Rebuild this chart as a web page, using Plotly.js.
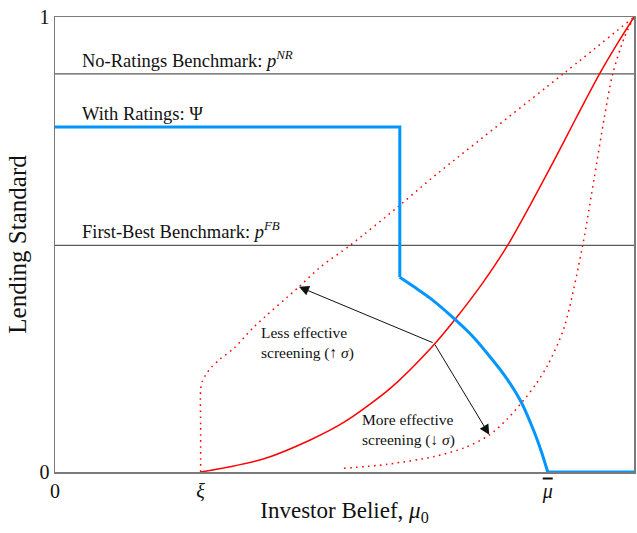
<!DOCTYPE html>
<html>
<head>
<meta charset="utf-8">
<script src="https://cdn.plot.ly/plotly-3.0.1.min.js"></script>
<style>
  html, body { margin: 0; padding: 0; background: #fff; }
  #chart { width: 637px; height: 533px; }
</style>
</head>
<body>
<div id="chart"></div>
<script>
// Benchmark lending standards (horizontal references)
const pNR = 0.875;   // no-ratings benchmark
const pFB = 0.498;   // first-best benchmark
const benchX = [0, 1];

// Special points on the belief axis
const xi = 0.2515;
const muBar = 0.851;

// Lending standard with ratings, Psi(mu0): flat part, falling part, zero part
const psiFlatX = [0, 0.5955, 0.5955];
const psiFlatY = [0.758, 0.758, 0.428];
const psiCurveX = [0.5955, 0.62, 0.649, 0.6894, 0.72, 0.747, 0.78, 0.8047, 0.8277, 0.84, 0.851];
const psiCurveY = [0.428, 0.407, 0.381, 0.337, 0.300, 0.260, 0.206, 0.155, 0.088, 0.045, 0];
const psiZeroX = [0.851, 1];
const psiZeroY = [0, 0];

// Baseline screening curve (solid red)
const baseX = [0.2515, 0.30, 0.361, 0.4417, 0.50, 0.58, 0.649, 0.6894, 0.74, 0.7817, 0.82, 0.86, 0.90, 0.94, 0.972, 1.0];
const baseY = [0, 0.011, 0.029, 0.071, 0.110, 0.185, 0.272, 0.333, 0.418, 0.498, 0.585, 0.680, 0.778, 0.874, 0.943, 1.0];

// Less effective screening (upper dotted red)
const lessX = [0.2515, 0.2515, 0.2515, 0.2540, 0.2600, 0.2700, 0.2850, 0.309, 0.3437, 0.4214, 0.4589, 0.5096, 0.5915, 0.649, 0.8767, 1.0];
const lessY = [0, 0.100, 0.180, 0.198, 0.213, 0.230, 0.248, 0.272, 0.319, 0.407, 0.451, 0.498, 0.582, 0.644, 0.874, 1.0];

// More effective screening (lower dotted red)
const moreX = [0.499, 0.574, 0.655, 0.7067, 0.75, 0.78, 0.8076, 0.83, 0.851, 0.8795, 0.9113, 0.9314, 0.9487, 0.963, 0.983, 1.0];
const moreY = [0.008, 0.017, 0.034, 0.053, 0.081, 0.115, 0.155, 0.192, 0.235, 0.318, 0.498, 0.647, 0.779, 0.874, 0.954, 1.0];

// Comparative-statics arrows: common tail on the baseline curve
const arrowTail = [0.6548, 0.283];
const arrowLess = [0.4214, 0.407];
const arrowMore = [0.750, 0.082];

// Axis tick labels
const xTickVals = [0, xi, muBar, 1];
const xTickText = ['0', '<i>ξ</i>', '<span style="text-decoration:overline"><i>μ</i></span>', '1'];
const yTickVals = [0, 1];
const yTickText = ['0', '1'];

const SERIF = '"Liberation Serif", "Times New Roman", serif';
const RED = '#ff0000';
const BLUE = '#0096ff';
const GREY = '#5a5a5a';
const DOTS = '1.6px,4.4px';

const line = (x, y, color, width, extra) => Object.assign(
  { x: x, y: y, mode: 'lines', hoverinfo: 'skip' },
  { line: Object.assign({ color: color, width: width }, extra || {}) }
);

const traces = [
  line(benchX, [pNR, pNR], GREY, 1.3),
  line(benchX, [pFB, pFB], GREY, 1.3),
  line(lessX, lessY, RED, 1.5, { dash: DOTS, shape: 'spline', smoothing: 0.8 }),
  line(moreX, moreY, RED, 1.5, { dash: DOTS, shape: 'spline', smoothing: 0.8 }),
  line(baseX, baseY, RED, 1.5, { shape: 'spline', smoothing: 0.8 }),
  line(psiFlatX, psiFlatY, BLUE, 3),
  line(psiCurveX, psiCurveY, BLUE, 3, { shape: 'spline', smoothing: 0.8 }),
  line(psiZeroX, psiZeroY, BLUE, 3)
];

const arrowStyle = {
  xref: 'x', yref: 'y', axref: 'x', ayref: 'y',
  text: '', showarrow: true, arrowhead: 2, arrowsize: 2, arrowwidth: 1,
  arrowcolor: '#111', standoff: 0, startstandoff: 0
};

const label = (text, x, y, size) => ({
  xref: 'x', yref: 'y', x: x, y: y, text: text, showarrow: false,
  xanchor: 'left', yanchor: 'middle', align: 'left',
  font: { family: SERIF, size: size, color: '#111' }
});

const layout = {
  width: 637, height: 533,
  margin: { l: 55, r: 3, t: 17, b: 61 },
  paper_bgcolor: '#fff', plot_bgcolor: '#fff',
  showlegend: false,
  font: { family: SERIF, color: '#111' },
  xaxis: {
    range: [0, 1], showgrid: false, zeroline: false,
    showline: true, mirror: true, linecolor: '#7a7a7a', linewidth: 1.5,
    ticks: '', tickmode: 'array', tickvals: xTickVals, ticktext: xTickText,
    tickfont: { family: SERIF, size: 20, color: '#111' },
    layer: 'below traces',
    title: { text: 'Investor Belief, <i>μ</i><sub>0</sub>', font: { family: SERIF, size: 23, color: '#111' }, standoff: 0 }
  },
  yaxis: {
    range: [0, 1], showgrid: false, zeroline: false,
    showline: true, mirror: true, linecolor: '#7a7a7a', linewidth: 1.5,
    ticks: '', tickmode: 'array', tickvals: yTickVals, ticktext: yTickText,
    tickfont: { family: SERIF, size: 20, color: '#111' },
    layer: 'below traces',
    title: { text: 'Lending Standard', font: { family: SERIF, size: 25, color: '#111' }, standoff: 6 }
  },
  annotations: [
    Object.assign({}, arrowStyle, { x: arrowLess[0], y: arrowLess[1], ax: arrowTail[0], ay: arrowTail[1] }),
    Object.assign({}, arrowStyle, { x: arrowMore[0], y: arrowMore[1], ax: arrowTail[0], ay: arrowTail[1] }),
    label('No-Ratings Benchmark: <i>p</i><sup><i>NR</i></sup>', 0.044, 0.907, 18.5),
    label('With Ratings: Ψ', 0.044, 0.787, 18.5),
    label('First-Best Benchmark: <i>p</i><sup><i>FB</i></sup>', 0.044, 0.531, 18.5),
    label('Less effective<br>screening (↑ <i>σ</i>)', 0.352, 0.2826, 15.5),
    label('More effective<br>screening (↓ <i>σ</i>)', 0.527, 0.092, 15.5)
  ]
};

Plotly.newPlot('chart', traces, layout, { displayModeBar: false, staticPlot: true });
</script>
</body>
</html>
